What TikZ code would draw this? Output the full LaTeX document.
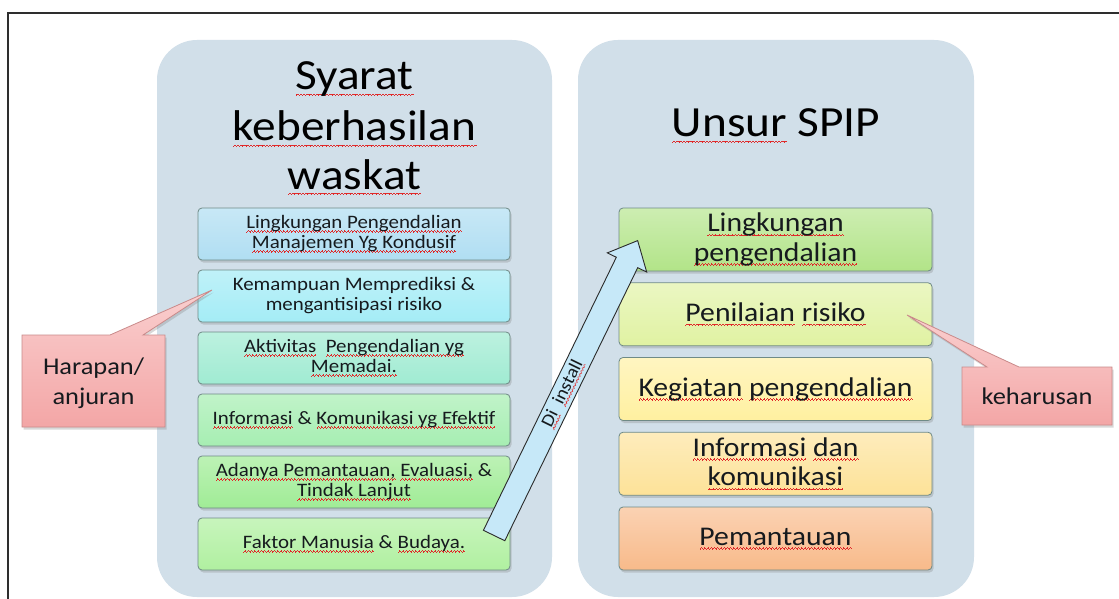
\documentclass[tikz,border=0pt]{standalone}
\usepackage{fontspec}
\setmainfont{Carlito}[FakeStretch=1.1]
\usetikzlibrary{shapes.arrows,shadows}

\definecolor{panel}{HTML}{D1DFE9}
\definecolor{spellred}{HTML}{E02A2A}
\definecolor{boxline}{HTML}{6F8A86}
\definecolor{framegray}{HTML}{2E2E2E}
\definecolor{textdark}{HTML}{161A1E}
\definecolor{arrowfill}{HTML}{C6E8F8}
\definecolor{arrowline}{HTML}{2A2A2A}
\definecolor{calloutline}{HTML}{C98A8A}
\definecolor{pinktop}{HTML}{FACFCF}
\definecolor{pinkbot}{HTML}{F3A6A6}
% item fills (bottom colours of the gradients)
\definecolor{L1c}{HTML}{B0DEF2}
\definecolor{L2c}{HTML}{A4ECF6}
\definecolor{L3c}{HTML}{A0EBD2}
\definecolor{L4c}{HTML}{A6EEB2}
\definecolor{L5c}{HTML}{A0EC96}
\definecolor{L6c}{HTML}{B0F0A0}
\definecolor{R1c}{HTML}{B2E488}
\definecolor{R2c}{HTML}{E0F2A2}
\definecolor{R3c}{HTML}{FFF0A0}
\definecolor{R4c}{HTML}{FDE298}
\definecolor{R5c}{HTML}{F8BA8A}

% wavy spell-check underline, built from small rules
\newsavebox\wvbox
\newcommand\wvunit{\rule[0pt]{0.8pt}{0.8pt}\rule[0.7pt]{0.8pt}{0.8pt}%
  \rule[1.4pt]{0.8pt}{0.8pt}\rule[0.7pt]{0.8pt}{0.8pt}}
\newcommand\wv[1]{\sbox\wvbox{#1}%
  \rlap{\color{spellred}\lower\dimexpr0.1em+1.6pt\relax\hbox to\wd\wvbox{\xleaders\hbox{\wvunit}\hfil}}%
  \usebox\wvbox}

\begin{document}
\begin{tikzpicture}[x=1pt,y=1pt,
  panelbox/.style={fill=panel, rounded corners=40pt, inner sep=0pt},
  shadowed/.style={drop shadow={opacity=0.3, shadow xshift=1.5pt, shadow yshift=-2.5pt}},
  itembox/.style={draw=boxline, line width=0.8pt, rounded corners=4pt, align=center,
    inner sep=0pt, text=textdark, shadowed},
  lbox/.style={itembox, minimum width=312pt, minimum height=52pt,
    font=\fontsize{19}{20}\selectfont},
  rbox/.style={itembox, minimum width=313pt, minimum height=63pt,
    font=\fontsize{27}{29.5}\selectfont},
  ttl/.style={anchor=base, inner sep=0pt, font=\fontsize{43}{48}\selectfont, text=black},
  callout/.style={draw=calloutline, line width=0.8pt, top color=pinktop, bottom color=pinkbot, shadowed},
  callouttext/.style={align=center, inner sep=0pt, text=textdark, font=\fontsize{24}{30}\selectfont},
]

\useasboundingbox (0,0) rectangle (1119,-599);
\fill[white] (0,0) rectangle (1119,-599);

% page frame
\draw[line width=1.5pt, framegray] (8,-599) -- (8,-13) -- (1119,-13);

% two column panels
\node[panelbox, minimum width=395pt, minimum height=557pt] (lpanel) at (354.5,-318.5) {};
\node[panelbox, minimum width=396pt, minimum height=557pt] (rpanel) at (776,-318.5) {};

% column titles
\node[ttl] (t1) at (354.5,-90) {\wv{Syarat}};
\node[ttl] (t2) at (354.5,-141) {\wv{keberhasilan}};
\node[ttl] (t3) at (354.5,-189) {\wv{waskat}};
\node[ttl] (u1) at (776,-137) {\wv{Unsur} SPIP};

% left column items
\node[lbox, top color=white!30!L1c, bottom color=L1c] (l1) at (354,-234)
  {\wv{Lingkungan Pengendalian}\\\wv{Manajemen Yg Kondusif}};
\node[lbox, top color=white!30!L2c, bottom color=L2c] (l2) at (354,-296)
  {Kemampuan Memprediksi \&\\mengantisipasi risiko};
\node[lbox, top color=white!30!L3c, bottom color=L3c] (l3) at (354,-358)
  {\wv{Aktivitas}\ \ \wv{Pengendalian yg}\\\wv{Memadai.}};
\node[lbox, top color=white!30!L4c, bottom color=L4c] (l4) at (354,-420)
  {\wv{Informasi} \& \wv{Komunikasi yg Efektif}};
\node[lbox, top color=white!30!L5c, bottom color=L5c] (l5) at (354,-482)
  {\wv{Adanya Pemantauan,} \wv{Evaluasi,} \&\\\wv{Tindak Lanjut}};
\node[lbox, top color=white!30!L6c, bottom color=L6c] (l6) at (354,-544)
  {\wv{Faktor Manusia} \& \wv{Budaya.}};

% right column items
\node[rbox, top color=white!35!R1c, bottom color=R1c] (r1) at (775.5,-239.5)
  {\wv{Lingkungan}\\\wv{pengendalian}};
\node[rbox, top color=white!35!R2c, bottom color=R2c] (r2) at (775.5,-314.25)
  {\wv{Penilaian} \wv{risiko}};
\node[rbox, top color=white!35!R3c, bottom color=R3c] (r3) at (775.5,-389)
  {\wv{Kegiatan} \wv{pengendalian}};
\node[rbox, top color=white!35!R4c, bottom color=R4c] (r4) at (775.5,-463.75)
  {\wv{Informasi}\ \wv{dan}\\\wv{komunikasi}};
\node[rbox, top color=white!35!R5c, bottom color=R5c] (r5) at (775.5,-538.5)
  {\wv{Pemantauan}};

% block arrow from the left column to the right column
\node[single arrow, draw=arrowline, fill=arrowfill, line width=0.9pt,
  minimum height=328pt, single arrow head extend=10pt, single arrow tip angle=84,
  inner xsep=2pt, inner ysep=3.5pt, rotate=64.05, text=textdark,
  font=\fontsize{18}{18}\selectfont] (inst) at (563,-394) {\wv{Di}\ \ \wv{install}};

% callouts
\path[callout] (22,-335) -- (110,-335) -- (212,-290) -- (143,-335) -- (165,-335)
  -- (165,-427) -- (22,-427) -- cycle;
\node[callouttext] (harapan) at (93.5,-383) {Harapan/\\anjuran};

\path[callout] (962,-367) -- (987,-367) -- (907,-315) -- (1019,-367) -- (1112,-367)
  -- (1112,-425) -- (962,-425) -- cycle;
\node[callouttext] (keharusan) at (1037,-396) {keharusan};
\end{tikzpicture}
\end{document}
